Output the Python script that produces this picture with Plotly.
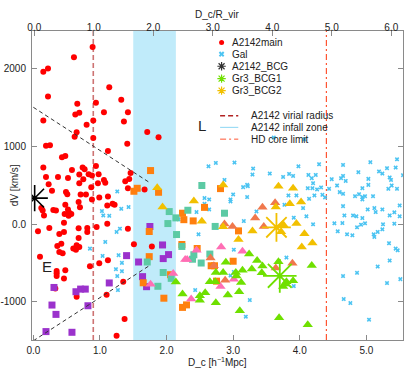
import plotly.graph_objects as go

# ---------------- data ----------------
R_VIR = 0.9          # h^-1 Mpc
HD_CORE = 4.4
INFALL = [1.5, 2.14]

red_x = [0.89,0.61,0.15,0.22,1.14,0.22,0.66,1.32,0.94,0.63,0.69,1.06,1.42,0.15,0.90,1.36,0.80,0.65,0.62,0.90,1.71,1.88,0.19,0.25,1.41,1.12,0.43,0.48,0.15,0.94,0.58,0.74,0.77,0.19,0.37,0.52,0.69,0.83,0.88,0.98,0.75,1.06,0.69,0.97,1.08,1.44,1.38,1.46,0.23,
         0.87,0.28,0.49,0.51,0.71,0.79,0.88,0.99,1.12,1.42,1.67,0.12,0.14,0.16,0.30,0.34,0.48,0.47,0.52,0.54,0.57,0.53,0.70,0.68,1.11,1.19,1.22,0.07,0.24,0.39,0.46,0.46,0.68,0.81,0.68,0.81,0.95,1.11,1.42,1.51,1.78,0.36,0.42,0.39,0.44,0.65,0.69,0.60,0.64,0.10,1.12,0.99,0.85,0.35,0.35,0.35,0.48,0.46,0.33,0.65,1.10,1.35,1.37,1.25]
red_y = [2275,2142,1955,1997,1757,1638,1545,1596,1558,1408,1430,1437,1437,1331,1331,1318,1276,1178,1122,1105,1181,1114,1007,1011,1033,938,858,874,726,747,695,726,704,605,605,592,636,640,623,640,576,567,525,525,529,580,550,657,512,
         474,426,410,384,380,380,316,342,355,461,444,205,175,111,179,175,247,128,188,145,128,106,214,282,239,260,247,-93,-51,-128,-102,17,-55,-51,-179,-102,-38,4,-60,-260,-290,-282,-252,-358,-375,-273,-294,-316,-329,-422,-465,-503,-541,-605,-631,-669,-593,-700,-828,-934,-909,-742,-1220,-1437]

gal_x = [3.61,2.63,2.74,3.02,3.30,3.29,3.55,2.87,3.75,3.21,4.07,3.98,4.29,3.84,3.90,4.13,4.18,4.24,4.20,4.48,4.62,4.65,4.65,4.69,4.88,5.06,5.03,5.19,5.24,5.31,5.35,5.37,5.44,5.46,5.55,
         4.12,4.19,4.26,4.32,4.44,4.56,3.83,3.95,4.22,4.34,4.14,4.38,3.77,4.05,3.91,4.10,4.20,3.80,3.91,4.60,4.65,4.83,4.89,4.94,4.98,4.94,5.03,5.10,4.94,5.33,5.38,5.46,4.65,5.02,5.12,5.14,5.24,4.67,4.80,4.85,4.94,5.35,5.42,5.50,5.50,4.52,4.64,4.86,4.92,4.98,5.25,5.42,5.11,5.12,5.17,5.24,4.57,4.71,4.79,5.34,5.44,5.47,5.35,5.17,4.86,4.65,5.51,5.31,4.66,4.76,5.04,
         3.15,3.22,3.00,3.21,2.96,2.96,2.57,2.64,2.45,2.64,3.35,2.48,3.16,3.01,2.43,2.96,3.01,3.25,3.19,2.57,2.18,
         1.26,1.03,1.05,1.14,1.32,1.43,1.30,1.25,1.08,0.85,1.04,1.28,1.33,1.24,1.33,1.26,1.27]
gal_y = [1110,742,785,790,713,636,649,567,605,503,1088,742,768,644,618,631,589,631,525,576,589,618,759,554,666,794,580,675,649,717,598,567,726,832,627,
         461,461,444,470,452,495,367,367,367,375,324,342,247,205,81,99,-4,-431,-797,410,388,358,384,346,358,461,503,358,316,452,495,452,230,188,205,154,188,111,111,99,77,111,150,99,239,9,13,-42,-9,9,-4,4,-132,-166,-102,-68,-94,-132,-145,-247,-316,-337,-470,-547,-627,-669,-708,-759,-964,-1015,-1229,
         474,487,380,346,316,290,333,316,154,188,162,-132,38,-329,-849,-662,-615,-977,-1190,260,60,
         419,166,111,106,196,218,-60,-102,-230,-316,-410,-401,-499,-580,-606,-669,-849]

purple_x = [1.40,1.58,1.75,1.64,1.14,0.31,0.64,0.71,0.78,0.28,0.82,0.34,0.19,0.58,1.94,2.03,1.95,1.70]
purple_y = [-406,-488,-32,-676,-757,-815,-870,-836,-836,-1041,-1050,-1161,-1382,-1391,-269,-393,-444,-805]

orange_x = [1.51,1.56,1.88,1.76,1.74,1.74,1.65,2.24,2.26,2.40,2.57,2.81,3.08,2.23,2.46,2.67,2.72,3.00,2.06,2.75,1.96,2.24,2.30]
orange_y = [421,459,408,687,-96,-419,-755,139,56,40,214,455,-88,-263,-314,-536,-536,-478,-651,-734,-953,-1071,-1039]

teal_x = [2.53,2.04,2.32,2.14,2.02,2.15,2.87,2.73,2.65,2.41,2.39,2.52,2.23,1.95,2.07,1.87,1.71]
teal_y = [495,160,177,79,6,-135,139,-31,-386,-395,-452,-501,-288,-623,-698,-800,-488]

pink_x = [2.82,2.28,2.31,2.45,3.14,2.10,3.01,2.81,2.37,1.76]
pink_y = [-294,-457,-457,-337,-350,-636,-710,-803,-964,-775]

coral_x = [3.44,3.63,2.87,2.99,3.33,3.46,2.66,2.71,2.88,3.64,3.89]
coral_y = [216,273,0,-31,77,-31,-437,-535,-722,-565,-505]

gold_x = [1.86,1.94,2.41,2.53,2.85,2.85,3.08,3.29,3.64,3.68,3.90,3.85,4.02,3.74,3.76,3.95,3.72,4.07,4.19,4.03]
gold_y = [465,220,297,37,500,-34,-200,-88,220,486,459,262,284,-9,-15,6,-100,-126,-245,-296]

green_x = [2.89,2.74,2.85,3.14,3.28,3.36,3.44,3.43,3.24,3.68,3.04,3.05,3.12,3.09,2.65,2.73,2.14,2.92,2.58,2.50,2.50,2.24,2.74,3.10,3.69,4.12,4.18,3.90,3.80,3.75,3.78]
green_y = [-491,-623,-623,-593,-578,-468,-538,-627,-386,-485,-623,-669,-751,-870,-742,-742,-745,-913,-883,-922,-979,-900,-1013,-1114,-1205,-1295,-533,-730,-742,-804,-772]

diam_x = [1.92,1.69,1.90,1.87,1.71,1.88,1.70,2.01]
diam_y = [-717,-727,-845,-887,-866,-1079,-1199,-1412]

bcg_main = (0.02, 333)
bcg1 = (3.70, -666)
bcg2 = (3.65, -42)

upper_x = [0.0, 1.75]
upper_y = [1500, 530]
lower_x = [0.0, 1.75]
lower_y = [-1500, -530]

x_ticks = [0, 1, 2, 3, 4, 5]
x2_ticks = [0, 1, 2, 3, 4, 5, 6]
y_ticks = [-1000, 0, 1000, 2000]
y_ticktext = ["-1000", "0.0", "1000", "2000"]

legend_markers = ["A2142main", "Gal", "A2142_BCG", "Gr3_BCG1", "Gr3_BCG2"]
legend_lines = ["A2142 virial radius", "A2142 infall zone", "HD core limit"]

# ---------------- styles ----------------
FONT = "Liberation Sans, Arial, Helvetica, sans-serif"
AX = "#8a8a8a"
C_RED = "#ff0000"
C_GAL = "#4cc4f2"
C_PURPLE = "#9b32cc"
C_ORANGE = "#ff7f0e"
C_TEAL = "#5ccaa4"
C_PINK = "#ff6eb4"
C_CORAL = "#f0784c"
C_GOLD = "#f2c000"
C_GREEN = "#6fe000"
C_DIAM = "#c3e63a"
C_BAND = "#c0ebfa"
C_VIR = "rgba(178,40,40,0.65)"
C_HD = "#ff5533"

fig = go.Figure()

def sc(x, y, color, symbol, size, lw=0, lc=None):
    fig.add_trace(go.Scatter(
        x=x, y=y, mode="markers", showlegend=False, hoverinfo="skip",
        marker=dict(color=color, symbol=symbol, size=size,
                    line=dict(width=lw, color=lc or color))))

# infall band and reference lines
fig.add_vrect(x0=INFALL[0], x1=INFALL[1], fillcolor=C_BAND, line_width=0, layer="below")
fig.add_vline(x=R_VIR, line=dict(color=C_VIR, width=1.6, dash="5px,3px"), layer="below")
fig.add_vline(x=HD_CORE, line=dict(color=C_HD, width=1.2, dash="6px,3px,2px,3px"), layer="below")

sc(gal_x, gal_y, C_GAL, "x", 4)
sc(red_x, red_y, C_RED, "circle", 6)
sc(purple_x, purple_y, C_PURPLE, "square", 7)
sc(orange_x, orange_y, C_ORANGE, "square", 7)
sc(teal_x, teal_y, C_TEAL, "square", 7)
sc(pink_x, pink_y, C_PINK, "triangle-up", 9)
sc(coral_x, coral_y, C_CORAL, "triangle-up", 9)
sc(gold_x, gold_y, C_GOLD, "triangle-up", 9)
sc(green_x, green_y, C_GREEN, "triangle-up", 9)
sc(diam_x, diam_y, "rgba(0,0,0,0)", "diamond-open", 8, 1.5, C_DIAM)

for xs, ys in [(upper_x, upper_y), (lower_x, lower_y)]:
    fig.add_trace(go.Scatter(x=xs, y=ys, mode="lines", showlegend=False, hoverinfo="skip",
                             line=dict(color="#333333", width=1, dash="4px,3px")))

sc([bcg_main[0]], [bcg_main[1]], "black", "asterisk-open", 22, 1.6, "black")
sc([bcg1[0]], [bcg1[1]], C_GREEN, "asterisk-open", 28, 1.8, C_GREEN)
sc([bcg2[0]], [bcg2[1]], C_GOLD, "asterisk-open", 24, 1.8, C_GOLD)

# invisible trace for top axis
fig.add_trace(go.Scatter(x=[0], y=[0], xaxis="x2", mode="markers",
                         marker=dict(opacity=0), showlegend=False, hoverinfo="skip"))

# -------- manual legend (on a hidden unit overlay axis) --------
mk_rows = [0.963, 0.925, 0.886, 0.846, 0.807]
mk_style = [(C_RED, "circle", 5, 0), (C_GAL, "x", 5, 0), ("#333333", "asterisk-open", 7, 1.2),
            (C_GREEN, "asterisk-open", 7, 1.2), (C_GOLD, "asterisk-open", 7, 1.2)]
for row, (c, s, z, lw) in zip(mk_rows, mk_style):
    fig.add_trace(go.Scatter(x=[0.511], y=[row], xaxis="x3", yaxis="y3", mode="markers",
                             showlegend=False, hoverinfo="skip",
                             marker=dict(color=c, symbol=s, size=z, line=dict(width=lw, color=c))))
ln_rows = [0.726, 0.688, 0.650]
ln_style = [("firebrick", "5px,3px", 1.5), ("#9ddcf5", "solid", 1.2), (C_HD, "6px,3px,2px,3px", 1.0)]
for row, (c, d, w) in zip(ln_rows, ln_style):
    fig.add_trace(go.Scatter(x=[0.507, 0.556], y=[row, row], xaxis="x3", yaxis="y3", mode="lines",
                             showlegend=False, hoverinfo="skip", line=dict(color=c, dash=d, width=w)))

ann = []
for row, t in zip(mk_rows, legend_markers):
    ann.append(dict(x=0.535, y=row, xref="paper", yref="paper", text=t, showarrow=False,
                    xanchor="left", yanchor="middle", font=dict(size=10, color="#222")))
for row, t in zip(ln_rows, legend_lines):
    ann.append(dict(x=0.584, y=row, xref="paper", yref="paper", text=t, showarrow=False,
                    xanchor="left", yanchor="middle", font=dict(size=10, color="#222")))
ann.append(dict(x=2.53, y=1270, xref="x", yref="y", text="L", showarrow=False,
                font=dict(size=15, color="#222")))
ann.append(dict(x=0.21, y=-545, xref="x", yref="y", text="E", showarrow=False,
                font=dict(size=15, color="#222")))
ann.append(dict(x=-0.067, y=0.5, xref="paper", yref="paper", text="dV [km/s]", textangle=-90,
                showarrow=False, font=dict(size=10, color="#222")))
ann.append(dict(x=0.5, y=-0.071, xref="paper", yref="paper", text="D_c [h<sup>\u22121</sup>Mpc]",
                showarrow=False, yanchor="middle", font=dict(size=10, color="#222")))
ann.append(dict(x=0.5, y=1.052, xref="paper", yref="paper", text="D_c/R_vir",
                showarrow=False, yanchor="middle", font=dict(size=10, color="#222")))

axis_common = dict(showgrid=False, zeroline=False, ticks="inside", ticklen=5, tickcolor=AX,
                   tickwidth=1, linecolor=AX, linewidth=1, showline=True, automargin=False,
                   tickfont=dict(size=10, color="#222"))

fig.update_layout(
    width=407, height=371,
    margin=dict(l=32, r=4, t=31, b=31, autoexpand=False),
    paper_bgcolor="white", plot_bgcolor="white",
    font=dict(family=FONT, size=10, color="#222"),
    showlegend=False,
    xaxis=dict(range=[-0.02, 5.55], tickvals=x_ticks, ticktext=[f"{v:.1f}" for v in x_ticks],
               mirror=True, ticklabelstandoff=1, **axis_common),
    xaxis2=dict(range=[-0.039, 6.197], overlaying="x", side="top", tickvals=x2_ticks,
                ticktext=[f"{v:.1f}" for v in x2_ticks], ticklabelstandoff=-5, **axis_common),
    yaxis=dict(range=[-1490, 2480], tickvals=y_ticks, ticktext=y_ticktext, mirror="ticks",
               ticklabelstandoff=3, **axis_common),
    xaxis3=dict(range=[0, 1], overlaying="x", visible=False),
    yaxis3=dict(range=[0, 1], overlaying="y", visible=False),
    annotations=ann,
)

fig.write_html("out.html", config={"displayModeBar": False, "staticPlot": True},
               post_script="document.body.style.margin='0';document.body.style.padding='0';")
